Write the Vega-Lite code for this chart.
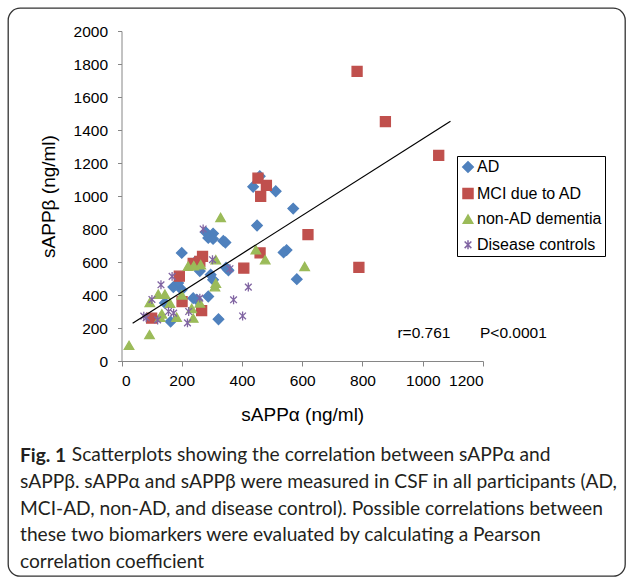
{
  "$schema": "https://vega.github.io/schema/vega-lite/v6.json",
  "width": 617,
  "height": 568,
  "autosize": {"type": "none"},
  "padding": {"left": 8, "top": 8, "right": 2, "bottom": 4},
  "background": "white",
  "config": {
    "view": {"stroke": "#333333", "strokeWidth": 1.3, "cornerRadius": 12},
    "font": "Liberation Sans"
  },
  "title": {
    "text": "Fig. 1",
    "subtitle": [
      "\u2800\u2800\u2800\u00a0\u00a0Scatterplots showing the correlation between sAPPα and",
      "sAPPβ. sAPPα and sAPPβ were measured in CSF in all participants (AD,",
      "MCI-AD, non-AD, and disease control). Possible correlations between",
      "these two biomarkers were evaluated by calculating a Pearson",
      "correlation coefficient"
    ],
    "orient": "bottom",
    "anchor": "start",
    "frame": "group",
    "offset": -129,
    "dx": 12,
    "font": "Lato",
    "fontSize": 19.2,
    "fontWeight": "bold",
    "color": "#231f20",
    "subtitleFont": "Lato",
    "subtitleFontSize": 19.2,
    "subtitleFontWeight": "normal",
    "subtitleColor": "#231f20",
    "lineHeight": 27,
    "subtitleLineHeight": 26.7,
    "subtitlePadding": -20
  },
  "layer": [
    {
      "data": {
        "values": [
          {"group": "AD", "sappa": 437, "sappb": 1056},
          {"group": "AD", "sappa": 459, "sappb": 1120},
          {"group": "AD", "sappa": 512, "sappb": 1029},
          {"group": "AD", "sappa": 570, "sappb": 924},
          {"group": "AD", "sappa": 450, "sappb": 821},
          {"group": "AD", "sappa": 200, "sappb": 655},
          {"group": "AD", "sappa": 280, "sappb": 780},
          {"group": "AD", "sappa": 304, "sappb": 772},
          {"group": "AD", "sappa": 288, "sappb": 746},
          {"group": "AD", "sappa": 304, "sappb": 740},
          {"group": "AD", "sappa": 338, "sappb": 728},
          {"group": "AD", "sappa": 345, "sappb": 718},
          {"group": "AD", "sappa": 548, "sappb": 672},
          {"group": "AD", "sappa": 538, "sappb": 658},
          {"group": "AD", "sappa": 582, "sappb": 496},
          {"group": "AD", "sappa": 244, "sappb": 600},
          {"group": "AD", "sappa": 260, "sappb": 545},
          {"group": "AD", "sappa": 347, "sappb": 565},
          {"group": "AD", "sappa": 355, "sappb": 550},
          {"group": "AD", "sappa": 296, "sappb": 523},
          {"group": "AD", "sappa": 304, "sappb": 492},
          {"group": "AD", "sappa": 172, "sappb": 448},
          {"group": "AD", "sappa": 188, "sappb": 472},
          {"group": "AD", "sappa": 200, "sappb": 432},
          {"group": "AD", "sappa": 238, "sappb": 381},
          {"group": "AD", "sappa": 250, "sappb": 371},
          {"group": "AD", "sappa": 288, "sappb": 391},
          {"group": "AD", "sappa": 322, "sappb": 253},
          {"group": "AD", "sappa": 163, "sappb": 239},
          {"group": "AD", "sappa": 144, "sappb": 352},
          {"group": "MCI due to AD", "sappa": 782, "sappb": 1755},
          {"group": "MCI due to AD", "sappa": 876, "sappb": 1451},
          {"group": "MCI due to AD", "sappa": 1053, "sappb": 1246},
          {"group": "MCI due to AD", "sappa": 619, "sappb": 766},
          {"group": "MCI due to AD", "sappa": 788, "sappb": 567},
          {"group": "MCI due to AD", "sappa": 453, "sappb": 1108},
          {"group": "MCI due to AD", "sappa": 481, "sappb": 1064},
          {"group": "MCI due to AD", "sappa": 462, "sappb": 998},
          {"group": "MCI due to AD", "sappa": 460, "sappb": 655},
          {"group": "MCI due to AD", "sappa": 406, "sappb": 563},
          {"group": "MCI due to AD", "sappa": 269, "sappb": 634},
          {"group": "MCI due to AD", "sappa": 260, "sappb": 604},
          {"group": "MCI due to AD", "sappa": 238, "sappb": 592},
          {"group": "MCI due to AD", "sappa": 192, "sappb": 514},
          {"group": "MCI due to AD", "sappa": 201, "sappb": 360},
          {"group": "MCI due to AD", "sappa": 266, "sappb": 305},
          {"group": "MCI due to AD", "sappa": 100, "sappb": 260},
          {"group": "non-AD dementia", "sappa": 329, "sappb": 870},
          {"group": "non-AD dementia", "sappa": 446, "sappb": 675},
          {"group": "non-AD dementia", "sappa": 477, "sappb": 614},
          {"group": "non-AD dementia", "sappa": 608, "sappb": 573},
          {"group": "non-AD dementia", "sappa": 313, "sappb": 614},
          {"group": "non-AD dementia", "sappa": 221, "sappb": 575},
          {"group": "non-AD dementia", "sappa": 240, "sappb": 578},
          {"group": "non-AD dementia", "sappa": 263, "sappb": 584},
          {"group": "non-AD dementia", "sappa": 310, "sappb": 450},
          {"group": "non-AD dementia", "sappa": 313, "sappb": 472},
          {"group": "non-AD dementia", "sappa": 25, "sappb": 95},
          {"group": "non-AD dementia", "sappa": 93, "sappb": 160},
          {"group": "non-AD dementia", "sappa": 94, "sappb": 355},
          {"group": "non-AD dementia", "sappa": 122, "sappb": 405},
          {"group": "non-AD dementia", "sappa": 144, "sappb": 405},
          {"group": "non-AD dementia", "sappa": 128, "sappb": 265},
          {"group": "non-AD dementia", "sappa": 134, "sappb": 285},
          {"group": "non-AD dementia", "sappa": 183, "sappb": 265},
          {"group": "non-AD dementia", "sappa": 233, "sappb": 318},
          {"group": "non-AD dementia", "sappa": 238, "sappb": 260},
          {"group": "non-AD dementia", "sappa": 260, "sappb": 352},
          {"group": "non-AD dementia", "sappa": 161, "sappb": 350},
          {"group": "non-AD dementia", "sappa": 200, "sappb": 400},
          {"group": "Disease controls", "sappa": 271, "sappb": 800},
          {"group": "Disease controls", "sappa": 302, "sappb": 614},
          {"group": "Disease controls", "sappa": 168, "sappb": 513},
          {"group": "Disease controls", "sappa": 131, "sappb": 462},
          {"group": "Disease controls", "sappa": 101, "sappb": 373},
          {"group": "Disease controls", "sappa": 74, "sappb": 272},
          {"group": "Disease controls", "sappa": 82, "sappb": 262},
          {"group": "Disease controls", "sappa": 120, "sappb": 249},
          {"group": "Disease controls", "sappa": 156, "sappb": 300},
          {"group": "Disease controls", "sappa": 173, "sappb": 290},
          {"group": "Disease controls", "sappa": 219, "sappb": 231},
          {"group": "Disease controls", "sappa": 223, "sappb": 300},
          {"group": "Disease controls", "sappa": 260, "sappb": 381},
          {"group": "Disease controls", "sappa": 360, "sappb": 559},
          {"group": "Disease controls", "sappa": 372, "sappb": 371},
          {"group": "Disease controls", "sappa": 421, "sappb": 448},
          {"group": "Disease controls", "sappa": 402, "sappb": 273}
        ]
      },
      "mark": {"type": "point", "filled": true, "opacity": 1, "strokeWidth": 1.3},
      "encoding": {
        "x": {
          "field": "sappa", "type": "quantitative",
          "scale": {"domain": [0, 1200], "range": [113.5, 475], "nice": false},
          "axis": {
            "offset": -215, "values": [0, 200, 400, 600, 800, 1000, 1200], "format": "d",
            "grid": false, "domainColor": "#868686", "tickColor": "#868686",
            "tickSize": 5, "labelFont": "Liberation Sans", "labelFontSize": 15.5,
            "labelColor": "#000000", "labelPadding": 7,
            "title": "sAPPα (ng/ml)", "titleFont": "Liberation Sans", "titleFontSize": 19,
            "titleFontWeight": "normal", "titleColor": "#000000", "titlePadding": 17
          }
        },
        "y": {
          "field": "sappb", "type": "quantitative",
          "scale": {"domain": [0, 2000], "range": [353, 23], "nice": false},
          "axis": {
            "offset": -113.5, "values": [0, 200, 400, 600, 800, 1000, 1200, 1400, 1600, 1800, 2000], "format": "d",
            "grid": false, "domainColor": "#868686", "tickColor": "#868686",
            "tickSize": 4, "labelFont": "Liberation Sans", "labelFontSize": 15.5,
            "labelColor": "#000000", "labelPadding": 10,
            "title": "sAPPβ (ng/ml)", "titleFont": "Liberation Sans", "titleFontSize": 19,
            "titleFontWeight": "normal", "titleColor": "#000000", "titlePadding": 15
          }
        },
        "color": {
          "field": "group", "type": "nominal",
          "scale": {
            "domain": ["AD", "MCI due to AD", "non-AD dementia", "Disease controls"],
            "range": ["#4F81BD", "#C0504D", "#9BBB59", "#8064A2"]
          },
          "legend": {
            "title": null, "orient": "none", "legendX": 449, "legendY": 148,
            "strokeColor": "#000000", "fillColor": "#ffffff", "padding": 3,
            "labelFont": "Liberation Sans", "labelFontSize": 16, "labelColor": "#000000",
            "symbolSize": 55, "rowPadding": 9.6, "labelOffset": 1
          }
        },
        "stroke": {
          "field": "group", "type": "nominal",
          "scale": {
            "domain": ["AD", "MCI due to AD", "non-AD dementia", "Disease controls"],
            "range": ["#4F81BD", "#C0504D", "#9BBB59", "#8064A2"]
          },
          "legend": {
            "title": null, "orient": "none", "legendX": 449, "legendY": 148,
            "strokeColor": "#000000", "fillColor": "#ffffff", "padding": 3,
            "labelFont": "Liberation Sans", "labelFontSize": 16, "labelColor": "#000000",
            "symbolSize": 55, "rowPadding": 9.6, "labelOffset": 1
          }
        },
        "shape": {
          "field": "group", "type": "nominal",
          "scale": {
            "domain": ["AD", "MCI due to AD", "non-AD dementia", "Disease controls"],
            "range": ["diamond", "square", "triangle-up", "M-0.75,-0.75L0.75,0.75M-0.75,0.75L0.75,-0.75M0,-1L0,1"]
          },
          "legend": {
            "title": null, "orient": "none", "legendX": 449, "legendY": 148,
            "strokeColor": "#000000", "fillColor": "#ffffff", "padding": 3,
            "labelFont": "Liberation Sans", "labelFontSize": 16, "labelColor": "#000000",
            "symbolSize": 55, "rowPadding": 9.6, "labelOffset": 1
          }
        },
        "size": {
          "field": "group", "type": "nominal",
          "scale": {
            "domain": ["AD", "MCI due to AD", "non-AD dementia", "Disease controls"],
            "range": [110, 80, 100, 90]
          },
          "legend": null
        }
      }
    },
    {
      "data": {
        "values": [
          {"sappa": 37, "sappb": 229},
          {"sappa": 1092, "sappb": 1453}
        ]
      },
      "mark": {"type": "line", "color": "#000000", "strokeWidth": 1.2},
      "encoding": {
        "x": {"field": "sappa", "type": "quantitative"},
        "y": {"field": "sappb", "type": "quantitative"}
      }
    },
    {
      "data": {
        "values": [
          {"label": "r=0.761", "sappa": 916, "sappb": 172},
          {"label": "P<0.0001", "sappa": 1190, "sappb": 172}
        ]
      },
      "mark": {"type": "text", "align": "left", "baseline": "middle", "font": "Liberation Sans", "fontSize": 15.5, "color": "#000000"},
      "encoding": {
        "x": {"field": "sappa", "type": "quantitative"},
        "y": {"field": "sappb", "type": "quantitative"},
        "text": {"field": "label"}
      }
    }
  ]
}
